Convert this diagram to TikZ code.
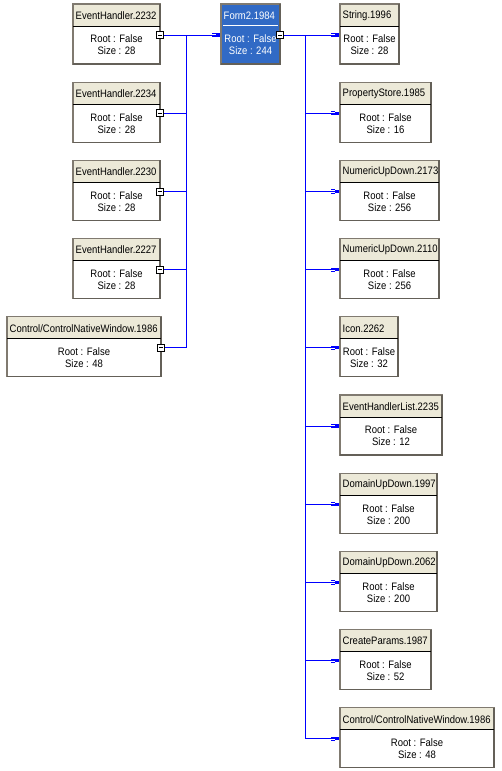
\documentclass[tikz,border=0pt]{standalone}
\usepackage{fontspec}
\setmainfont{Liberation Sans}[FakeStretch=0.88]
\usetikzlibrary{calc}
\definecolor{linkblue}{RGB}{0,0,255}
\definecolor{titlebg}{RGB}{236,233,216}
\definecolor{boxborder}{RGB}{128,122,112}
\definecolor{boxshade}{RGB}{100,96,88}
\definecolor{selblue}{RGB}{49,106,197}
\tikzset{
 classbox/.style={draw=boxborder, line width=1.2pt, fill=white, inner sep=0pt, outer sep=0pt, minimum height=60pt, anchor=north west},
 titletext/.style={font=\fontsize{10.8}{12}\selectfont, inner sep=0pt, anchor=west},
 bodytext/.style={font=\fontsize{10.8}{12}\selectfont, inner sep=0pt, align=center, anchor=center},
 collapse/.style={draw=black, fill=white, line width=0.8pt, minimum width=7pt, minimum height=7pt, inner sep=0pt,
   path picture={\draw[black,line width=0.8pt] ([xshift=1.5pt]path picture bounding box.west) -- ([xshift=-1.5pt]path picture bounding box.east);}},
 link/.style={draw=linkblue, line width=1pt},
}
\newcommand\classbox[6]{%
 \node[classbox, minimum width=#4pt] (#1) at (#2,#3) {};
 \fill[titlebg] ([xshift=0.6pt,yshift=-0.6pt]#1.north west) rectangle ([xshift=-0.6pt,yshift=-22pt]#1.north east);
 \draw[boxshade, line width=1.2pt] (#1.north east) -- (#1.south east) -- (#1.south west);
 \draw[black, line width=0.8pt] ([yshift=-22pt]#1.north west) -- ([yshift=-22pt]#1.north east);
 \node[titletext] (#1-t) at ([xshift=2.5pt,yshift=-11.5pt]#1.north west) {#5};
 \node[bodytext] (#1-b) at ([yshift=-41pt]#1.north) {Root : False\\Size : #6};
}
\newcommand\tipinto[1]{%
 \fill[linkblue] ($(#1)+(-5,-1.6)$) rectangle ($(#1)+(-1,1.6)$);
 \draw[linkblue, line width=0.8pt] ($(#1)+(-9,-1.6)$) -- ($(#1)+(-5,-1.6)$) ($(#1)+(-9,1.6)$) -- ($(#1)+(-5,1.6)$);
}
\begin{document}
\begin{tikzpicture}[x=1pt,y=-1pt]
\useasboundingbox (0,0) rectangle (501,771);
% left column
\classbox{l1}{73}{4}{87}{EventHandler.2232}{28}
\classbox{l2}{73}{82.2}{87}{EventHandler.2234}{28}
\classbox{l3}{73}{160.4}{87}{EventHandler.2230}{28}
\classbox{l4}{73}{238.6}{87}{EventHandler.2227}{28}
\classbox{l5}{7}{316.8}{154}{Control/ControlNativeWindow.1986}{48}
% centre
\node[classbox, fill=selblue, minimum width=59pt] (form) at (221,4) {};
\draw[boxshade, line width=1.2pt] (form.north east) -- (form.south east) -- (form.south west);
\draw[white, line width=0.8pt] ([xshift=2pt,yshift=-21pt]form.north west) -- ([xshift=-2pt,yshift=-21pt]form.north east);
\node[titletext, text=white] (form-t) at ([xshift=2.5pt,yshift=-11.5pt]form.north west) {Form2.1984};
\node[bodytext, text=white] (form-b) at ([yshift=-41pt]form.north) {Root : False\\Size : 244};
% right column
\classbox{r1}{340}{4}{59}{String.1996}{28}
\classbox{r2}{340}{82.2}{91}{PropertyStore.1985}{16}
\classbox{r3}{340}{160.4}{99}{NumericUpDown.2173}{256}
\classbox{r4}{340}{238.6}{99}{NumericUpDown.2110}{256}
\classbox{r5}{340}{316.8}{58}{Icon.2262}{32}
\classbox{r6}{340}{395}{102}{EventHandlerList.2235}{12}
\classbox{r7}{340}{473.2}{97}{DomainUpDown.1997}{200}
\classbox{r8}{340}{551.4}{97}{DomainUpDown.2062}{200}
\classbox{r9}{340}{629.6}{91}{CreateParams.1987}{52}
\classbox{r10}{340}{707.8}{154}{Control/ControlNativeWindow.1986}{48}
% buses
\coordinate (lbus) at (186,35);
\coordinate (rbus) at (305,35);
\coordinate (fin) at ([yshift=-31pt]form.north west);
% left connectors
\foreach \n in {l1,l2,l3,l4,l5} {
  \coordinate (\n-o) at ([yshift=-31pt]\n.north east);
  \draw[link] (\n-o) -- (\n-o -| lbus);
}
\draw[link] (l1-o -| lbus) -- (l5-o -| lbus);
\draw[link] (l1-o -| lbus) -- ([xshift=-5pt]fin);
\tipinto{fin}
\foreach \n in {l1,l2,l3,l4,l5} {
  \node[collapse] (\n-c) at (\n-o) {};
}
% right connectors
\coordinate (form-o) at ([yshift=-31pt]form.north east);
\draw[link] (form-o) -- (form-o -| rbus);
\foreach \n in {r1,r2,r3,r4,r5,r6,r7,r8,r9,r10} {
  \coordinate (\n-i) at ([yshift=-31pt]\n.north west);
  \draw[link] (\n-i -| rbus) -- ([xshift=-5pt]\n-i);
  \tipinto{\n-i}
}
\draw[link] (form-o -| rbus) -- (r10-i -| rbus);
\node[collapse] (form-c) at (form-o) {};
\end{tikzpicture}
\end{document}
